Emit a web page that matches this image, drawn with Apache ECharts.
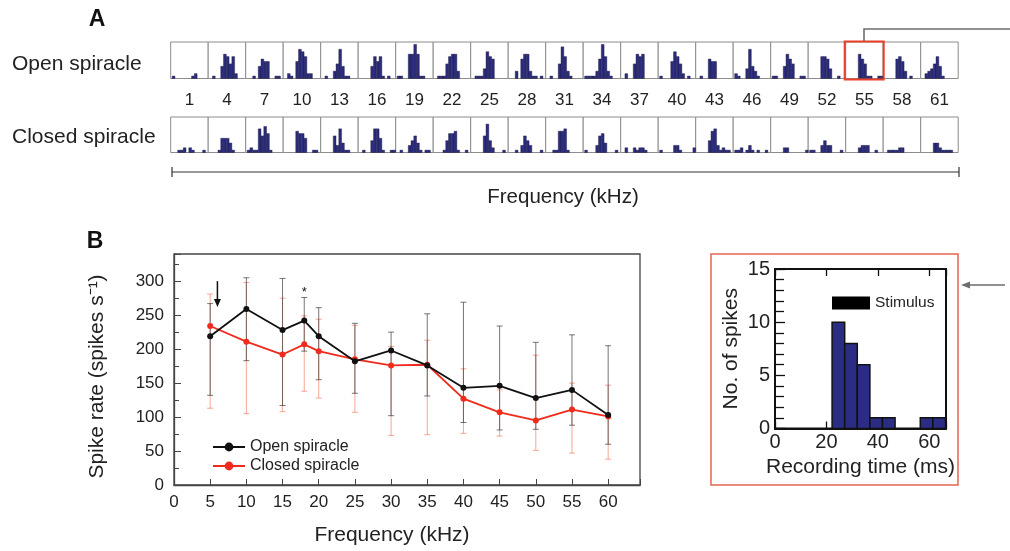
<!DOCTYPE html>
<html><head><meta charset="utf-8">
<script src="https://cdn.jsdelivr.net/npm/echarts@6/dist/echarts.min.js"></script>
<style>html,body{margin:0;padding:0;background:#fff}#c{width:1010px;height:551px}</style>
</head><body><div id="c"></div>
<script>
// ---------- DATA ----------
const freqsA = [1,4,7,10,13,16,19,22,25,28,31,34,37,40,43,46,49,52,55,58,61];
const binEdges = [2.6,7.5,12.4,17.3,22.2,27.1,32.0,36.9,41.8,46.7,51.6,56.5,61.4,66.3];
const openHist = [
  [1,0,0,0,0,0,0,1,2,0,0,0,0],
  [0,1,0,0,5,10,9,6,9,2,0,0,0],
  [0,0,1,0,5,8,7,7,0,0,1,1,0],
  [0,2,1,0,7,12,11,9,2,2,0,0,0],
  [0,1,0,0,3,6,12,5,1,1,0,0,0],
  [0,0,0,0,5,9,7,9,1,0,1,0,0],
  [1,1,0,0,10,10,14,10,1,1,0,0,0],
  [0,1,1,1,6,9,10,10,3,0,0,0,0],
  [0,1,1,1,4,11,9,8,0,0,0,0,0],
  [0,0,3,0,8,10,10,3,1,1,0,1,0],
  [0,1,0,0,6,13,9,3,1,0,0,0,0],
  [1,1,1,1,3,8,14,9,3,1,0,0,0],
  [0,2,0,0,6,10,9,10,0,0,0,0,0],
  [1,0,0,0,7,11,9,6,2,0,1,0,0],
  [0,1,0,0,8,7,7,0,0,0,0,0,0],
  [2,1,0,0,4,12,5,3,1,0,0,0,0],
  [1,1,0,0,5,10,8,6,0,0,1,1,0],
  [0,0,0,0,9,9,8,4,0,0,1,0,0],
  [0,0,0,0,10,8,6,1,1,0,0,1,1],
  [0,0,0,0,8,9,7,3,0,1,0,0,0],
  [0,2,3,4,6,9,5,1,0,0,0,0,0]
];
const closedHist = [
  [0,0,1,1,2,0,2,1,0,0,0,1,0],
  [0,0,0,1,6,6,6,4,1,0,0,0,0],
  [1,2,1,1,10,7,11,8,1,0,0,0,0],
  [0,0,0,0,9,8,8,6,0,0,1,1,0],
  [0,0,0,0,7,3,10,4,1,1,0,0,0],
  [0,1,0,0,5,10,10,6,1,0,0,1,1],
  [0,1,0,0,3,5,7,4,1,0,1,1,0],
  [0,0,0,1,5,8,8,9,1,0,0,1,0],
  [0,0,0,0,7,12,5,2,0,0,0,1,0],
  [0,0,1,0,3,7,5,3,0,0,0,1,0],
  [0,0,1,1,9,9,10,1,0,0,0,0,0],
  [1,0,0,0,3,7,8,4,0,0,0,1,0],
  [0,2,0,0,2,1,2,2,1,0,0,0,0],
  [1,0,0,0,0,3,3,1,0,0,0,0,2],
  [0,0,0,0,5,9,10,3,1,2,1,1,0],
  [1,1,2,0,1,3,1,0,1,0,0,1,0],
  [0,0,0,0,2,2,0,0,0,0,0,0,1],
  [1,1,0,0,3,5,3,3,0,0,0,1,0],
  [0,0,0,0,2,3,3,3,0,0,1,0,0],
  [0,1,1,1,1,2,2,0,0,0,0,0,0],
  [0,0,0,0,4,4,2,1,1,1,1,0,0]
];
const freqB = [5,10,15,18,20,25,30,35,40,45,50,55,60];
const openMean = [219,259,228,242,219,182,198,176,143,146,128,140,103];
const openHi   = [267,305,304,276,261,238,225,252,269,234,210,221,205];
const openLo   = [132,183,117,197,155,135,102,131,92,81,82,88,60];
const closedMean = [234,211,192,207,197,185,176,177,127,107,95,111,101];
const closedHi   = [281,298,275,249,244,235,204,213,171,140,191,150,147];
const closedLo   = [113,105,108,138,128,107,73,74,76,72,51,47,38];
const insetCounts = [0,0,0,0,10,8,6,1,1,0,0,1,1];
const arrowMark = [[6,300,262]];
const starMark = [[18,283]];

// ---------- LAYOUT ----------
const FONT = 'Liberation Sans, Arial, Helvetica, sans-serif';
const BOX_L0 = 170.7, BOX_W = 37.5;
const grids=[], xAxes=[], yAxes=[], series=[];

function histRender(fill, stroke, lw){
  return function(params, api){
    const x0=api.value(0), x1=api.value(1), c=api.value(2);
    if(!c) return null;
    const p0=api.coord([x0,c]), p1=api.coord([x1,0]);
    return {type:'rect', shape:{x:p0[0],y:p0[1],width:p1[0]-p0[0],height:p1[1]-p0[1]},
      style:{fill:fill, stroke:stroke, lineWidth:lw}};
  };
}
function histData(counts){ return counts.map((c,k)=>[binEdges[k],binEdges[k+1],c]); }

function addMini(row, i, counts){
  const gi = grids.length;
  grids.push({left: BOX_L0 + BOX_W*i, top: row===0?42:117, width: BOX_W, height: row===0?36.5:35.5,
    show:true, borderColor:'#8c8c8c', borderWidth:1, backgroundColor:'#fff'});
  xAxes.push({gridIndex:gi, type:'value', min:0, max:66.3,
    axisLine:{show:false}, axisTick:{show:false}, axisLabel:{show:false}, splitLine:{show:false},
    name: row===0 ? String(freqsA[i]) : '', nameLocation:'middle', nameGap:13,
    nameTextStyle:{fontSize:17, color:'#222', fontFamily:FONT}});
  yAxes.push({gridIndex:gi, type:'value', min:0, max:15, show:false});
  series.push({type:'custom', xAxisIndex:gi, yAxisIndex:gi, renderItem:histRender('#2c2c7c','#161640',0.4),
    data: histData(counts), silent:true});
}
openHist.forEach((h,i)=>addMini(0,i,h));
closedHist.forEach((h,i)=>addMini(1,i,h));

// Main chart (B)
const MG = grids.length;
grids.push({left:174, top:254, width:466, height:231, show:true, borderColor:'#444', borderWidth:1.3});
xAxes.push({gridIndex:MG, type:'value', min:0, max:64.4, interval:5,
  axisLine:{show:true, lineStyle:{color:'#444', width:1.3}},
  axisTick:{inside:true, length:6, lineStyle:{color:'#444'}},
  axisLabel:{fontSize:17, color:'#222', fontFamily:FONT, margin:9,
    formatter:v=> (v%5===0 && v<=60) ? String(v) : ''},
  splitLine:{show:false},
  name:'Frequency (kHz)', nameLocation:'middle', nameGap:40,
  nameTextStyle:{fontSize:21, color:'#222', fontFamily:FONT, padding:[0,30,0,0]}});
yAxes.push({gridIndex:MG, type:'value', min:0, max:340, interval:50,
  axisLine:{show:true, lineStyle:{color:'#444', width:1.3}},
  axisTick:{inside:true, length:7, lineStyle:{color:'#444'}},
  minorTick:{show:true, splitNumber:2, length:5, lineStyle:{color:'#444'}},
  axisLabel:{fontSize:17, color:'#222', fontFamily:FONT, margin:10,
    formatter:v=> (v%50===0 && v<=300) ? String(v) : ''},
  splitLine:{show:false},
  name:'Spike rate (spikes s⁻¹)', nameLocation:'middle', nameGap:66,
  nameTextStyle:{fontSize:21, color:'#222', fontFamily:FONT, padding:[0,14,0,0]}});

function errRender(color){
  return function(params, api){
    const x=api.value(0), lo=api.value(1), hi=api.value(2);
    const pl=api.coord([x,lo]), ph=api.coord([x,hi]); const cw=3;
    const st={stroke:color, lineWidth:1};
    return {type:'group', children:[
      {type:'line', shape:{x1:pl[0],y1:pl[1],x2:ph[0],y2:ph[1]}, style:st},
      {type:'line', shape:{x1:pl[0]-cw,y1:pl[1],x2:pl[0]+cw,y2:pl[1]}, style:st},
      {type:'line', shape:{x1:ph[0]-cw,y1:ph[1],x2:ph[0]+cw,y2:ph[1]}, style:st}
    ]};
  };
}
series.push({type:'custom', name:'closedErr', xAxisIndex:MG, yAxisIndex:MG, renderItem:errRender('rgba(240,120,95,0.65)'),
  data: freqB.map((f,i)=>[f,closedLo[i],closedHi[i]]), silent:true, z:2});
series.push({type:'custom', name:'openErr', xAxisIndex:MG, yAxisIndex:MG, renderItem:errRender('rgba(60,60,60,0.7)'),
  data: freqB.map((f,i)=>[f,openLo[i],openHi[i]]), silent:true, z:2});
series.push({type:'line', name:'Closed spiracle', xAxisIndex:MG, yAxisIndex:MG,
  data: freqB.map((f,i)=>[f,closedMean[i]]), symbol:'circle', symbolSize:6,
  lineStyle:{color:'#ee2b1c', width:1.8}, itemStyle:{color:'#ee2b1c'}, z:3});
series.push({type:'line', name:'Open spiracle', xAxisIndex:MG, yAxisIndex:MG,
  data: freqB.map((f,i)=>[f,openMean[i]]), symbol:'circle', symbolSize:6,
  lineStyle:{color:'#111', width:1.8}, itemStyle:{color:'#111'}, z:4});
series.push({type:'custom', xAxisIndex:MG, yAxisIndex:MG, silent:true, z:5, data:arrowMark,
  renderItem:function(params, api){
    const a=api.coord([api.value(0),api.value(1)]), b=api.coord([api.value(0),api.value(2)]);
    return {type:'group', children:[
      {type:'line', shape:{x1:a[0],y1:a[1],x2:b[0],y2:b[1]-6}, style:{stroke:'#111', lineWidth:1.5}},
      {type:'polygon', shape:{points:[[b[0],b[1]],[b[0]-3.5,b[1]-8],[b[0]+3.5,b[1]-8]]}, style:{fill:'#111'}}
    ]};
  }});
series.push({type:'custom', xAxisIndex:MG, yAxisIndex:MG, silent:true, z:5, data:starMark,
  renderItem:function(params, api){
    const p=api.coord([api.value(0),api.value(1)]);
    return {type:'text', x:p[0], y:p[1], style:{text:'*', fontSize:13, fontFamily:FONT, fill:'#111', align:'center', verticalAlign:'middle'}};
  }});

// Inset
const IG = grids.length;
grids.push({left:775, top:269, width:171, height:159.5, show:true, borderColor:'#111', borderWidth:2});
const IX = xAxes.length;
xAxes.push({gridIndex:IG, type:'value', min:0, max:66.5, interval:20, position:'bottom',
  axisLine:{show:true, lineStyle:{color:'#111', width:2}},
  axisTick:{inside:true, length:7, lineStyle:{color:'#111', width:1.3}},
  axisLabel:{fontSize:20, color:'#222', fontFamily:FONT, margin:4, formatter:v=> (v%20===0)?String(v):''},
  splitLine:{show:false},
  name:'Recording time (ms)', nameLocation:'middle', nameGap:28,
  nameTextStyle:{fontSize:21, color:'#222', fontFamily:FONT}});
xAxes.push({gridIndex:IG, type:'value', min:0, max:66.5, interval:20, position:'top',
  axisLine:{show:false}, axisTick:{inside:true, length:7, lineStyle:{color:'#111', width:1.3}},
  axisLabel:{show:false}, splitLine:{show:false}});
yAxes.push({gridIndex:IG, type:'value', min:0, max:15, interval:5,
  axisLine:{show:true, lineStyle:{color:'#111', width:2}},
  axisTick:{inside:true, length:10, lineStyle:{color:'#111', width:1.3}},
  minorTick:{show:true, splitNumber:5, length:9, lineStyle:{color:'#111', width:1.3}},
  axisLabel:{fontSize:20, color:'#222', fontFamily:FONT, margin:5},
  splitLine:{show:false},
  name:'No. of spikes', nameLocation:'middle', nameGap:33,
  nameTextStyle:{fontSize:21, color:'#222', fontFamily:FONT}});
series.push({type:'custom', xAxisIndex:IX, yAxisIndex:IG, renderItem:histRender('#2b2d84','#111',1.5),
  data: histData(insetCounts), silent:true, z:3});
series.push({type:'bar', name:'Stimulus', xAxisIndex:IX, yAxisIndex:IG, data:[], itemStyle:{color:'#000'}});

// ---------- GRAPHICS (decor/text) ----------
const txt = (x,y,t,size,extra)=>Object.assign({type:'text', x:x, y:y, style:Object.assign({text:t, fontSize:size, fontFamily:FONT, fill:'#222', verticalAlign:'middle'}, extra||{})});
const graphic = [
  txt(97,20,'A',23,{fontWeight:'bold', align:'center', fill:'#111'}),
  txt(95,242,'B',23,{fontWeight:'bold', align:'center', fill:'#111'}),
  txt(12,64,'Open spiracle',21),
  txt(12,137,'Closed spiracle',21),
  txt(563,197,'Frequency (kHz)',20.5,{align:'center'}),
  {type:'line', shape:{x1:172,y1:172,x2:959,y2:172}, style:{stroke:'#333', lineWidth:1.2}},
  {type:'line', shape:{x1:172,y1:167,x2:172,y2:177}, style:{stroke:'#333', lineWidth:1.2}},
  {type:'line', shape:{x1:959,y1:167,x2:959,y2:177}, style:{stroke:'#333', lineWidth:1.2}},
  {type:'rect', shape:{x:BOX_L0+BOX_W*18-1, y:41.5, width:BOX_W+1.5, height:38}, style:{fill:'none', stroke:'#e8402a', lineWidth:2}, z:100},
  {type:'polyline', shape:{points:[[864,41],[864,29],[1010,29]]}, style:{fill:'none', stroke:'#6d6d6d', lineWidth:1.6}, z:100},
  {type:'rect', shape:{x:711, y:254, width:247, height:231}, style:{fill:'none', stroke:'#e56550', lineWidth:1.5}, z:100},
  {type:'line', shape:{x1:968,y1:285,x2:1005,y2:285}, style:{stroke:'#6d6d6d', lineWidth:1.6}, z:100},
  {type:'polygon', shape:{points:[[961,285],[970,281.5],[970,288.5]]}, style:{fill:'#6d6d6d'}, z:100}
];

const chart = echarts.init(document.getElementById('c'), null, {renderer:'canvas'});
chart.setOption({
  animation:false,
  backgroundColor:'#fff',
  textStyle:{fontFamily:FONT},
  grid:grids, xAxis:xAxes, yAxis:yAxes, series:series,
  legend:[
    {data:['Open spiracle','Closed spiracle'], left:207, top:434, orient:'vertical', itemGap:3,
      itemWidth:32, itemHeight:11, textStyle:{fontSize:16, color:'#222', fontFamily:FONT}, selectedMode:false},
    {data:[{name:'Stimulus', icon:'rect'}], left:827, top:290, itemWidth:38, itemHeight:13,
      textStyle:{fontSize:15.5, color:'#222', fontFamily:FONT}, selectedMode:false}
  ],
  graphic:graphic
});
</script></body></html>
